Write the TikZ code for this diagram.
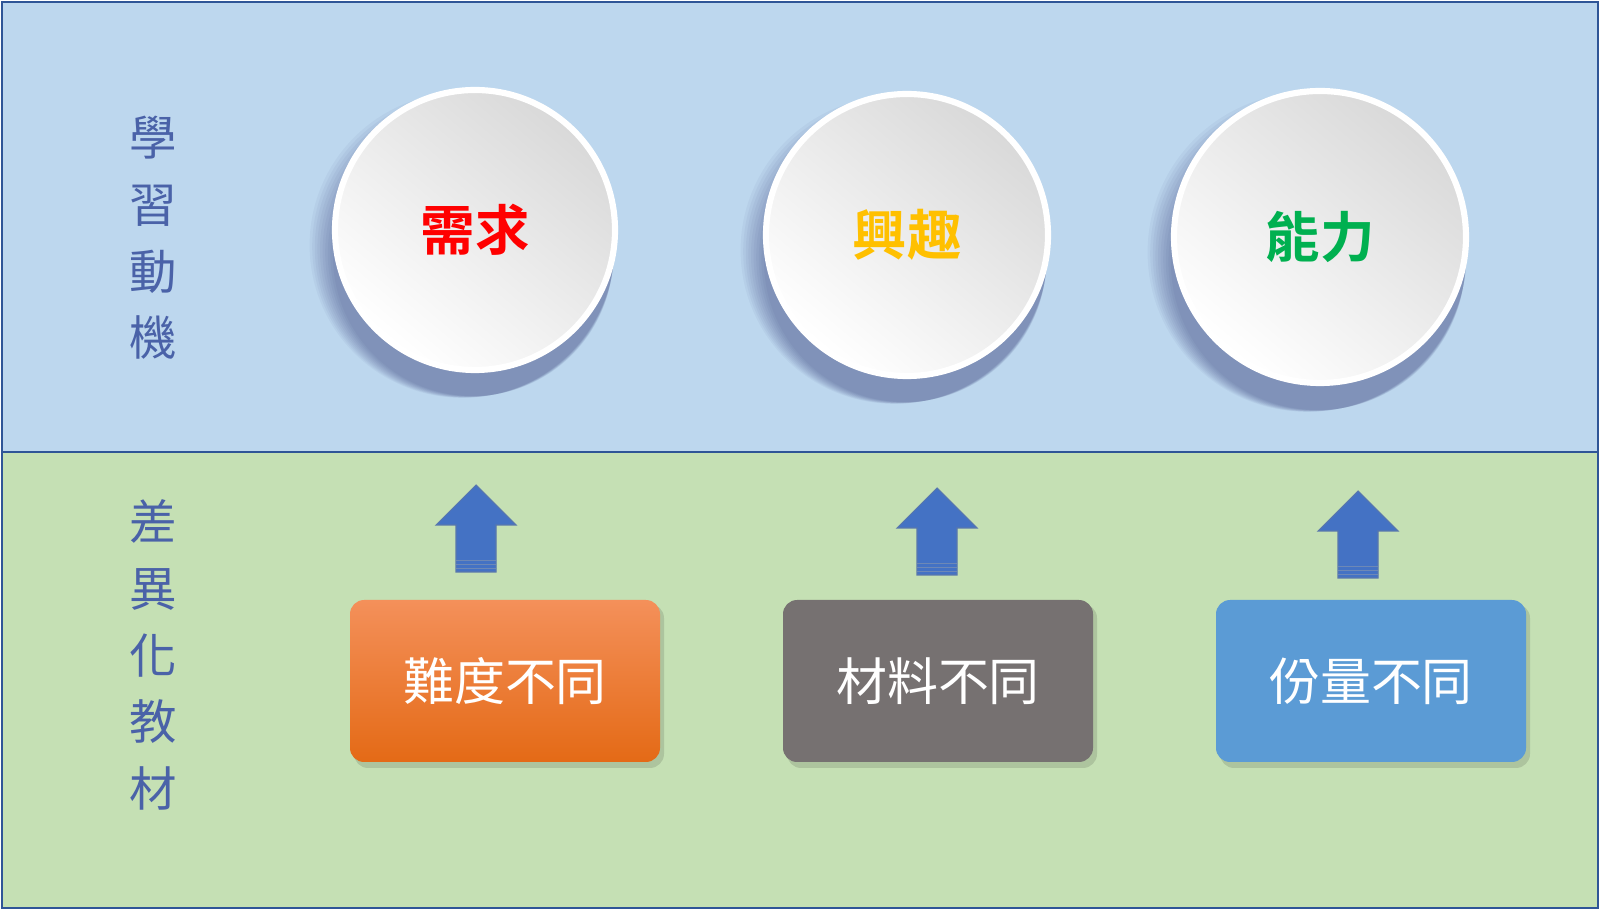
\documentclass[tikz,border=0pt]{standalone}
\usepackage{fontspec}
\newfontfamily\cjk{Noto Sans CJK TC}
\newfontfamily\cjkb{Noto Sans CJK TC Bold}
\definecolor{topbg}{HTML}{BDD7EE}
\definecolor{botbg}{HTML}{C5E0B4}
\definecolor{frame}{HTML}{2F5597}
\definecolor{lbl}{HTML}{4A62A8}
\definecolor{arr}{HTML}{4472C4}
\definecolor{orA}{HTML}{F4905A}
\definecolor{orB}{HTML}{E46A16}
\definecolor{grayb}{HTML}{767171}
\definecolor{blueb}{HTML}{5B9BD5}
\newlength{\pu}\setlength{\pu}{0.02cm}
\tikzset{
 panel/.style={draw=frame,line width=1.2pt},
 vlabel/.style={text=lbl,font=\cjk\fontsize{27}{38}\selectfont,align=center},
 ball/.style={circle,draw=white,line width=3.5pt,top color=gray!30,bottom color=white,shading angle=-40},
 balltext/.style={font=\cjkb\fontsize{31}{31}\selectfont},
 arrowshape/.style={fill=arr,draw=frame!80,line width=0.6pt},
 boxb/.style={rounded corners=8pt,minimum width=310\pu,minimum height=162\pu,text=white,font=\cjk\fontsize{29}{29}\selectfont}
}
\begin{document}
\begin{tikzpicture}[x=0.02cm,y=-0.02cm]
\useasboundingbox (0,0) rectangle (1600,911);
\fill[white] (0,0) rectangle (1600,911);
\draw[panel,fill=topbg] (2,2) rectangle (1598,452);
\draw[panel,fill=botbg] (2,452) rectangle (1598,908);
\node[vlabel] (t1) at (153,238) {學\\習\\動\\機};
\node[vlabel] (t2) at (153,655) {差\\異\\化\\教\\材};
\foreach \cx/\cy/\r in {475/230/140,907/235/141,1320/237/147}{
  \foreach \k in {1,...,10}{
    \fill[black!70!blue,opacity=0.035] (\cx+\k*1.2-14,\cy+\k*1.2+14) circle ({\r+14-\k*1.4});
  }
}
\node[ball,minimum size=280\pu] (c1) at (475,230) {};
\node[ball,minimum size=282\pu] (c2) at (907,235) {};
\node[ball,minimum size=292\pu] (c3) at (1320,237) {};
\node[balltext,text=red] at (c1) {需求};
\node[balltext,text={rgb,255:red,255;green,192;blue,0}] at (c2) {興趣};
\node[balltext,text={rgb,255:red,0;green,176;blue,80}] at (c3) {能力};
\coordinate (a1) at (476,485);
\coordinate (a2) at (937,488);
\coordinate (a3) at (1358,491);
\foreach \a in {a1,a2,a3}{
  \draw[arrowshape] (\a) -- ++(40,40) -- ++(-20,0) -- ++(0,47) -- ++(-40,0) -- ++(0,-47) -- ++(-20,0) -- cycle;
  \foreach \d in {75,79,83}{\draw[frame!70,line width=0.5pt] ([shift={(-20,\d)}]\a) -- ++(40,0);}
}
\foreach \x in {505,938,1371}{\fill[black,opacity=0.12,rounded corners=8pt] (\x-151,604) rectangle (\x+159,768);}
\node[boxb,top color=orA,bottom color=orB] (b1) at (505,681) {難度不同};
\node[boxb,fill=grayb] (b2) at (938,681) {材料不同};
\node[boxb,fill=blueb] (b3) at (1371,681) {份量不同};
\end{tikzpicture}
\end{document}
